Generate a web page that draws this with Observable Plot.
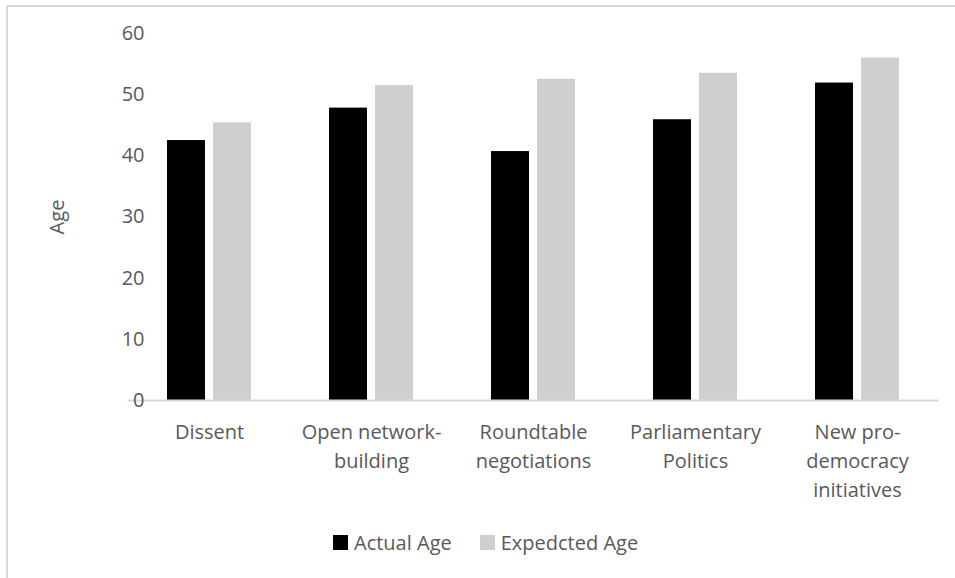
<!DOCTYPE html>
<html>
<head>
<meta charset="utf-8">
<script src="https://cdn.jsdelivr.net/npm/d3@7"></script>
<script src="https://cdn.jsdelivr.net/npm/@observablehq/plot@0.6"></script>
<style>
  html, body { margin: 0; padding: 0; background: #fff; }
  #wrap { position: relative; width: 955px; height: 578px; overflow: hidden; font-family: "Open Sans", sans-serif; }
  #frame { position: absolute; left: 6px; top: 5px; width: 960px; height: 600px; border: 2px solid #d9d9d9; box-sizing: border-box; }
  #chart { position: absolute; left: 0; top: 0; }
  #ylabel { position: absolute; left: 57px; top: 217px; transform: translate(-50%, -50%) rotate(-90deg); font-size: 20px; color: #595959; white-space: nowrap; line-height: 1; }
  #legend { position: absolute; left: 333px; top: 529px; display: flex; align-items: center; font-size: 20px; color: #595959; white-space: nowrap; }
  .sw { width: 15px; height: 15px; display: inline-block; margin-right: 6px; }
  .item { display: flex; align-items: center; margin-right: 28px; }
</style>
</head>
<body>
<div id="wrap">
  <div id="frame"></div>
  <div id="chart"></div>
  <div id="ylabel">Age</div>
  <div id="legend"></div>
</div>
<script>
const categories = ["Dissent", "Open network-building", "Roundtable negotiations", "Parliamentary Politics", "New pro-democracy initiatives"];
const categoryLabels = ["Dissent", "Open network-\nbuilding", "Roundtable\nnegotiations", "Parliamentary\nPolitics", "New pro-\ndemocracy\ninitiatives"];
const seriesNames = ["Actual Age", "Expedcted Age"];
const actualAge = [42.5, 47.8, 40.7, 45.9, 51.9];
const expectedAge = [45.4, 51.5, 52.5, 53.5, 56.0];
const seriesColors = ["#000000", "#d0cecf"];
const yTicks = [0, 10, 20, 30, 40, 50, 60];

const data = [];
categories.forEach((c, i) => {
  data.push({category: c, series: seriesNames[0], value: actualAge[i]});
  data.push({category: c, series: seriesNames[1], value: expectedAge[i]});
});
const labelOf = new Map(categories.map((c, i) => [c, categoryLabels[i]]));

const fxPadInner = 0.4815, fxPadOuter = 0.2407;
const plotW = 955 - 128 - 17;
const step = plotW / (categories.length - fxPadInner + 2 * fxPadOuter);
const ext = step * fxPadInner / 2 + 0.5;

const chart = Plot.plot({
  width: 955,
  height: 515,
  marginTop: 33,
  marginBottom: 115,
  marginLeft: 128,
  marginRight: 17,
  style: {fontFamily: "Open Sans, sans-serif", fontSize: "20px", color: "#595959", background: "transparent"},
  fx: {domain: categories, paddingInner: fxPadInner, paddingOuter: fxPadOuter, axis: null},
  x: {domain: seriesNames, paddingInner: 0.174, paddingOuter: 0, axis: null},
  y: {domain: [0, 60], ticks: yTicks, axis: null},
  color: {domain: seriesNames, range: seriesColors},
  marks: [
    Plot.barY(data, {fx: "category", x: "series", y: "value", fill: "series"}),
    Plot.ruleY([0], {stroke: "#d9d9d9", strokeWidth: 2, insetLeft: -ext, insetRight: -ext}),
    Plot.axisY({ticks: yTicks, tickSize: 0, tickPadding: 23, fontSize: 20, fill: "#595959", label: null}),
    Plot.axisFx({anchor: "bottom", tickSize: 0, tickPadding: 18, fontSize: 20, fill: "#595959", lineHeight: 1.45, tickFormat: d => labelOf.get(d), label: null})
  ]
});
document.getElementById("chart").appendChild(chart);

const legend = document.getElementById("legend");
seriesNames.forEach((s, i) => {
  const item = document.createElement("span");
  item.className = "item";
  const sw = document.createElement("span");
  sw.className = "sw";
  sw.style.background = seriesColors[i];
  item.appendChild(sw);
  item.appendChild(document.createTextNode(s));
  legend.appendChild(item);
});
</script>
</body>
</html>
